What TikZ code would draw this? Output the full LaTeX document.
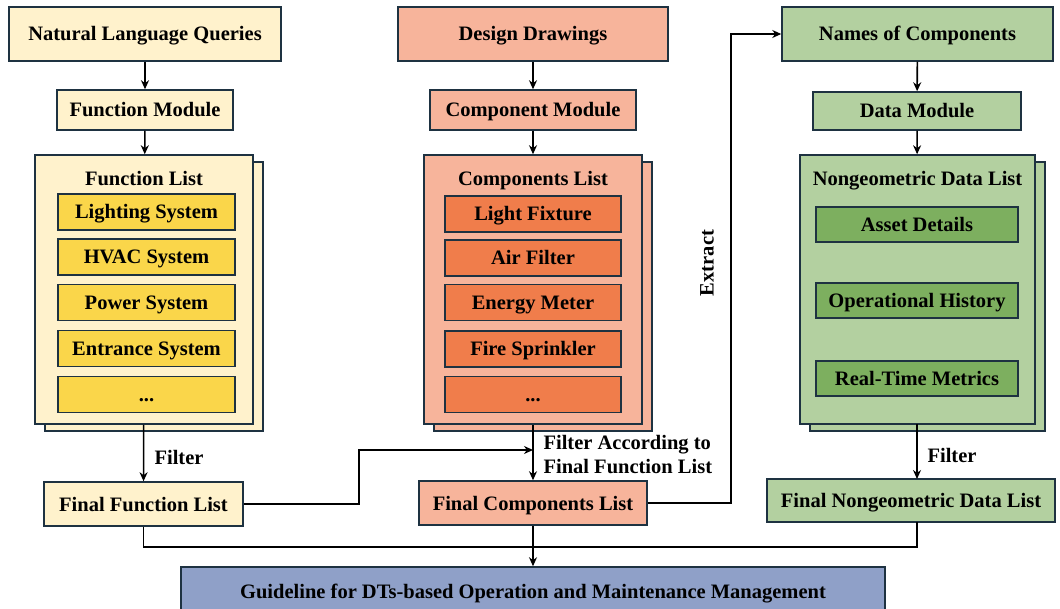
\documentclass[tikz,border=0pt]{standalone}
\usepackage{fontspec}
\setmainfont{Liberation Serif}
\usetikzlibrary{arrows.meta}
\definecolor{edge}{HTML}{1E3241}
\definecolor{yellowA}{HTML}{FFF2CC}
\definecolor{yellowB}{HTML}{FAD64A}
\definecolor{orangeA}{HTML}{F7B49B}
\definecolor{orangeB}{HTML}{F07D4B}
\definecolor{greenA}{HTML}{B3D0A0}
\definecolor{greenB}{HTML}{7DAF5F}
\definecolor{blueA}{HTML}{8FA0C8}
\begin{document}
\begin{tikzpicture}[x=1pt,y=-1pt,>={Stealth[length=9pt,width=8pt]},
    font=\fontsize{20.5}{24}\selectfont\bfseries,
    box/.style={draw=edge, line width=1.5pt, inner sep=0pt, minimum height=40pt, text height=14pt, text depth=0pt},
    stack/.style={box, minimum width=#1, minimum height=269pt},
    item/.style={box, minimum width=#1, minimum height=36pt},
    title/.style={text height=14pt, text depth=0pt, inner sep=0pt},
    link/.style={line width=1.6pt, black}]
    \useasboundingbox (0,0) rectangle (1060,609);
    % left column
    \node[box, fill=yellowA, minimum width=272pt, minimum height=54pt] (nlq) at (145,34) {Natural Language Queries};
    \node[box, fill=yellowA, minimum width=176pt] (fmod) at (145,110) {Function Module};
    \node[stack=218pt, fill=yellowA] (flistback) at (154,296.5) {};
    \node[stack=218pt, fill=yellowA] (flist) at (144,289.5) {};
    \node[title] (flisttitle) at (144,179) {Function List};
    \node[item=177pt, fill=yellowB] (light) at (146.5,212) {Lighting System};
    \node[item=177pt, fill=yellowB] (hvac) at (146.5,257) {HVAC System};
    \node[item=177pt, fill=yellowB] (power) at (146.5,302.5) {Power System};
    \node[item=177pt, fill=yellowB] (entrance) at (146.5,348.5) {Entrance System};
    \node[item=177pt, fill=yellowB] (fmore) at (146.5,394.5) {...};
    \node[box, fill=yellowA, minimum width=199pt, minimum height=44pt] (ffl) at (143.5,504) {Final Function List};
    % middle column
    \node[box, fill=orangeA, minimum width=270pt, minimum height=54pt] (dd) at (533,34) {Design Drawings};
    \node[box, fill=orangeA, minimum width=206pt] (cmod) at (533,110) {Component Module};
    \node[stack=218pt, fill=orangeA] (clistback) at (543,296.5) {};
    \node[stack=218pt, fill=orangeA] (clist) at (533,289.5) {};
    \node[title] (clisttitle) at (533,179) {Components List};
    \node[item=176pt, fill=orangeB] (fixture) at (533,214) {Light Fixture};
    \node[item=176pt, fill=orangeB] (filter) at (533,258) {Air Filter};
    \node[item=176pt, fill=orangeB] (meter) at (533,302.5) {Energy Meter};
    \node[item=176pt, fill=orangeB] (sprinkler) at (533,349) {Fire Sprinkler};
    \node[item=176pt, fill=orangeB] (cmore) at (533,394.5) {...};
    \node[box, fill=orangeA, minimum width=228pt, minimum height=44pt] (fcl) at (533,503) {Final Components List};
    % right column
    \node[box, fill=greenA, minimum width=271pt, minimum height=54pt] (names) at (917.5,34) {Names of Components};
    \node[box, fill=greenA, minimum width=208pt, minimum height=38pt] (dmod) at (917,111) {Data Module};
    \node[stack=235pt, fill=greenA] (dlistback) at (927.5,296.5) {};
    \node[stack=235pt, fill=greenA] (dlist) at (917.5,289.5) {};
    \node[title] (dlisttitle) at (917.5,179) {Nongeometric Data List};
    \node[item=202pt, fill=greenB, minimum height=35pt] (asset) at (917,224.5) {Asset Details};
    \node[item=202pt, fill=greenB, minimum height=35pt] (history) at (917,300.5) {Operational History};
    \node[item=202pt, fill=greenB, minimum height=35pt] (metrics) at (917,378.5) {Real-Time Metrics};
    \node[box, fill=greenA, minimum width=288pt, minimum height=43pt] (fng) at (911,500.5) {Final Nongeometric Data List};
    % bottom
    \node[box, fill=blueA, minimum width=704pt, minimum height=48pt] (guide) at (533,591) {Guideline for DTs-based Operation and Maintenance Management};
    % connectors
    \draw[link, ->] (nlq) -- (fmod);
    \draw[link, ->] (fmod) -- (flist);
    \draw[link, ->] (flist) -- (ffl);
    \node[anchor=west] (filterA) at (151,457) {Filter};
    \draw[link, ->] (dd) -- (cmod);
    \draw[link, ->] (cmod) -- (clist);
    \draw[link, ->] (clist) -- (fcl);
    \coordinate (cjoin) at (533,450);
    \draw[link, ->] (ffl.east) -- ++(115,0) |- (cjoin);
    \node[anchor=west, align=left] (filterB) at (540,455) {Filter According to\\Final Function List};
    \draw[link, ->] (fcl.east) -- ++(83,0) |- (names.west);
    \node[rotate=90] (extract) at (707,263) {Extract};
    \draw[link, ->] (names) -- (dmod);
    \draw[link, ->] (dmod) -- (dlist);
    \draw[link, ->] (917,424) -- (917,479);
    \node[anchor=west] (filterC) at (924,455) {Filter};
    \draw[link] (ffl.south) -- ++(0,20) -| (917,522);
    \draw[link, ->] (fcl) -- (guide);
\end{tikzpicture}
\end{document}
